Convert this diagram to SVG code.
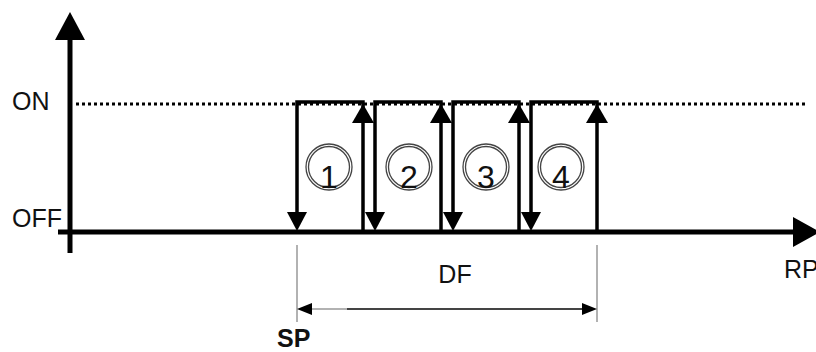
<svg xmlns="http://www.w3.org/2000/svg" width="816" height="352" viewBox="0 0 816 352">
<style>
.lbl{font-family:"Liberation Sans",Arial,sans-serif;font-size:25px;fill:#111}
.num{font-family:"Liberation Sans",Arial,sans-serif;font-size:32px;fill:#111;text-anchor:middle}
.axis{stroke:#000;stroke-width:5;fill:none}
.pl{stroke:#000;stroke-width:3.5;fill:none}
.ring{fill:none;stroke:#444;stroke-width:1.3}
</style>
<rect width="816" height="352" fill="#fff"/>
<g id="axes">
<line class="axis" x1="70" y1="38" x2="70" y2="253"/>
<polygon points="70,12 55,40 85,40" fill="#000"/>
<line class="axis" x1="58" y1="232" x2="795" y2="232"/>
<polygon points="820,232 793,217 793,247" fill="#000"/>
<line x1="76" y1="104" x2="806" y2="104" stroke="#000" stroke-width="3" stroke-dasharray="3 3"/>
</g>
<g id="labels">
<text class="lbl" x="12" y="110">ON</text>
<text class="lbl" x="12" y="227">OFF</text>
<text class="lbl" x="784" y="278">RP</text>
</g>
<g id="connectors">
<g id="pulse1">
<polyline class="pl" points="297,212 297,102 363,102 363,122"/>
<line class="pl" x1="363" y1="122" x2="363" y2="232"/>
<polygon points="287,212 307,212 297,231" fill="#000"/>
<polygon points="363,104 352,123 374,123" fill="#000"/>
</g>
<g id="pulse2">
<polyline class="pl" points="375,212 375,102 441,102 441,122"/>
<line class="pl" x1="441" y1="122" x2="441" y2="232"/>
<polygon points="365,212 385,212 375,231" fill="#000"/>
<polygon points="441,104 430,123 452,123" fill="#000"/>
</g>
<g id="pulse3">
<polyline class="pl" points="453,212 453,102 519,102 519,122"/>
<line class="pl" x1="519" y1="122" x2="519" y2="232"/>
<polygon points="443,212 463,212 453,231" fill="#000"/>
<polygon points="519,104 508,123 530,123" fill="#000"/>
</g>
<g id="pulse4">
<polyline class="pl" points="531,212 531,102 597,102 597,122"/>
<line class="pl" x1="597" y1="122" x2="597" y2="232"/>
<polygon points="521,212 541,212 531,231" fill="#000"/>
<polygon points="597,104 586,123 608,123" fill="#000"/>
</g>
</g>
<g id="n1"><circle class="ring" cx="329" cy="167" r="23"/><circle class="ring" cx="329" cy="167" r="20.5"/><text class="num" x="329" y="188">1</text></g>
<g id="n2"><circle class="ring" cx="409" cy="167" r="23"/><circle class="ring" cx="409" cy="167" r="20.5"/><text class="num" x="409" y="188">2</text></g>
<g id="n3"><circle class="ring" cx="486" cy="167" r="23"/><circle class="ring" cx="486" cy="167" r="20.5"/><text class="num" x="486" y="188">3</text></g>
<g id="n4"><circle class="ring" cx="561" cy="167" r="23"/><circle class="ring" cx="561" cy="167" r="20.5"/><text class="num" x="561" y="188">4</text></g>
<g id="dimension">
<line x1="297" y1="245" x2="297" y2="322" stroke="#999" stroke-width="1.5"/>
<line x1="597" y1="245" x2="597" y2="322" stroke="#999" stroke-width="1.5"/>
<line x1="310" y1="309" x2="348" y2="309" stroke="#999" stroke-width="1.5"/>
<line x1="347" y1="309" x2="585" y2="309" stroke="#444" stroke-width="2"/>
<polygon points="297,309 312,303 312,315" fill="#000"/>
<polygon points="597,309 582,303 582,315" fill="#000"/>
<text class="lbl" x="455" y="283" text-anchor="middle">DF</text>
<text class="lbl" x="277" y="347" font-weight="bold" font-size="26">SP</text>
</g>
</svg>
